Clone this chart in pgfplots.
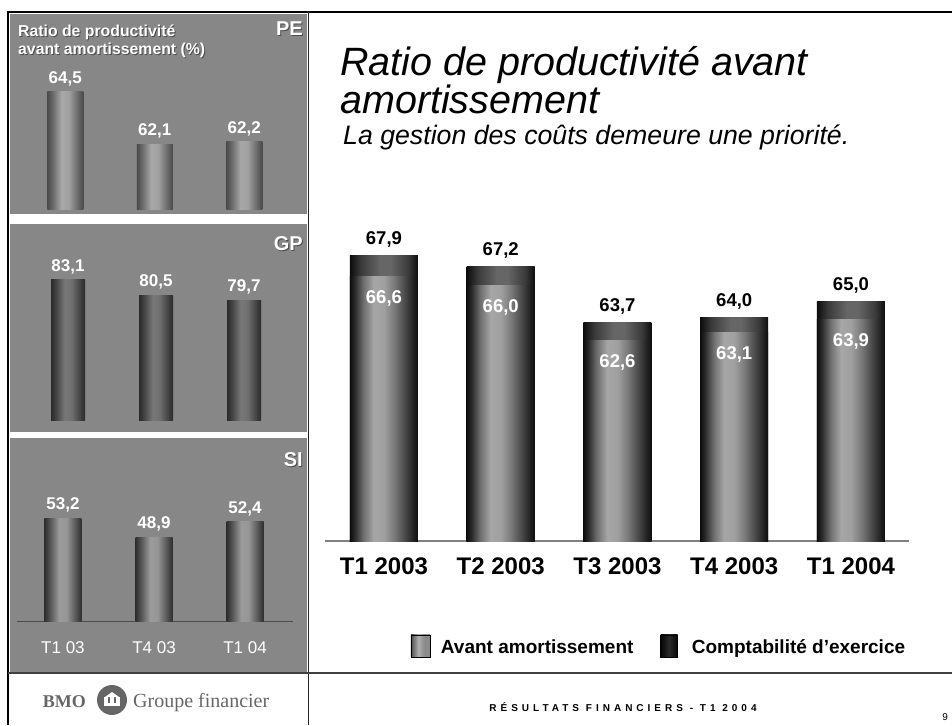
\documentclass[border=0pt]{standalone}
\usepackage{pgfplots}
\pgfplotsset{compat=1.18}
\usepackage{pgfplotstable}
\usepackage{fontspec}
\setmainfont{Liberation Sans}
\newfontfamily\logofont{Liberation Serif}

\definecolor{panel}{HTML}{878787}
% main lower bar
\definecolor{la}{HTML}{0D0D0D}
\definecolor{lb}{HTML}{2A2A2A}
\definecolor{lc}{HTML}{6F6F6F}
\definecolor{ld}{HTML}{A6A6A6}
\definecolor{le}{HTML}{A0A0A0}
\definecolor{lf}{HTML}{7A7A7A}
\definecolor{lg}{HTML}{454545}
\definecolor{lh}{HTML}{222222}
% main top bar
\definecolor{ta}{HTML}{0D0D0D}
\definecolor{tb}{HTML}{3A3A3A}
\definecolor{tc}{HTML}{666666}
% PE
\definecolor{pa}{HTML}{4A4A4A}
\definecolor{pb}{HTML}{6A6A6A}
\definecolor{pc}{HTML}{A8A8A8}
\definecolor{pd}{HTML}{A0A0A0}
% GP
\definecolor{ga}{HTML}{2A2A2A}
\definecolor{gb}{HTML}{444444}
\definecolor{gc}{HTML}{787878}
\definecolor{gd}{HTML}{707070}
% SI
\definecolor{sa}{HTML}{2E2E2E}
\definecolor{sb}{HTML}{555555}
\definecolor{sc}{HTML}{9C9C9C}
\definecolor{sd}{HTML}{959595}
% legend
\definecolor{ka}{HTML}{4A4A4A}
\definecolor{kb}{HTML}{B0B0B0}
\definecolor{kc}{HTML}{8A8A8A}
\definecolor{kd}{HTML}{050505}
\definecolor{ke}{HTML}{2A2A2A}

\pgfdeclarehorizontalshading{lowbar}{100bp}{color(0bp)=(la); color(25bp)=(la); color(28.5bp)=(lb); color(35bp)=(lc); color(42.5bp)=(ld); color(50bp)=(le); color(57.5bp)=(lf); color(66bp)=(lg); color(71.5bp)=(lh); color(75bp)=(la); color(100bp)=(la)}
\pgfdeclarehorizontalshading{topbar}{100bp}{color(0bp)=(ta); color(25bp)=(ta); color(33bp)=(tb); color(47bp)=(tc); color(55bp)=(tc); color(68bp)=(tb); color(75bp)=(ta); color(100bp)=(ta)}
\pgfdeclarehorizontalshading{pebar}{100bp}{color(0bp)=(pa); color(25bp)=(pa); color(32.5bp)=(pb); color(45bp)=(pc); color(55bp)=(pd); color(67.5bp)=(pb); color(75bp)=(pa); color(100bp)=(pa)}
\pgfdeclarehorizontalshading{gpbar}{100bp}{color(0bp)=(ga); color(25bp)=(ga); color(32.5bp)=(gb); color(45bp)=(gc); color(55bp)=(gd); color(67.5bp)=(gb); color(75bp)=(ga); color(100bp)=(ga)}
\pgfdeclarehorizontalshading{sibar}{100bp}{color(0bp)=(sa); color(25bp)=(sa); color(32.5bp)=(sb); color(45bp)=(sc); color(55bp)=(sd); color(67.5bp)=(sb); color(75bp)=(sa); color(100bp)=(sa)}
\pgfdeclarehorizontalshading{leglow}{100bp}{color(0bp)=(ka); color(25bp)=(ka); color(45bp)=(kb); color(60bp)=(kc); color(75bp)=(kc); color(100bp)=(kc)}
\pgfdeclarehorizontalshading{legtop}{100bp}{color(0bp)=(kd); color(25bp)=(kd); color(50bp)=(ke); color(75bp)=(kd); color(100bp)=(kd)}

% Avant amortissement (low), Comptabilite d'exercice (tot)
\pgfplotstableread{
x low tot lowlab totlab
0 66.6 67.9 66,6 67,9
1 66.0 67.2 66,0 67,2
2 62.6 63.7 62,6 63,7
3 63.1 64.0 63,1 64,0
4 63.9 65.0 63,9 65,0
}\maintable

\pgfplotstableread{
x y lab
0 64.5 64,5
1 62.1 62,1
2 62.2 62,2
}\petable

\pgfplotstableread{
x y lab
0 83.1 83,1
1 80.5 80,5
2 79.7 79,7
}\gptable

\pgfplotstableread{
x y lab
0 53.2 53,2
1 48.9 48,9
2 52.4 52,4
}\sitable

\pgfplotsset{
  panelax/.style={
    scale only axis, enlargelimits=false,
    xmin=-0.5, xmax=2.5, ytick=\empty,
    point meta=explicit symbolic,
  },
  panelbar/.style={ybar, bar shift=0pt, draw=none, forget plot,
    nodes near coords,
    nodes near coords style={anchor=base, yshift=8.5pt, inner sep=0pt,
      font=\fontsize{17}{19}\selectfont\bfseries, text=white}},
}

\newcommand{\shadowtext}[4]{% x, y, anchor, text
  \node[anchor=#3, inner sep=0pt, text=black!70] at (#1pt+1pt,#2pt-1pt) {#4};
  \node[anchor=#3, inner sep=0pt, text=white] at (#1pt,#2pt) {#4};
}

\begin{document}
\begin{tikzpicture}
\fill[white] (0pt,0pt) rectangle (952pt,725pt);
\useasboundingbox (0pt,0pt) rectangle (952pt,725pt);

\begin{scope}[x=1pt,y=1pt]
% panels
\fill[panel] (10,511) rectangle (307,711);
\fill[panel] (10,293) rectangle (307,501);
\fill[panel] (10,52) rectangle (307,287);

% frame lines
\draw[line width=2.5pt] (6.5,713) -- (952,713);
\draw[line width=2.5pt] (8,0) -- (8,713);
\draw[line width=1.5pt, black!85] (308.5,0) -- (308.5,713);
\draw[line width=1.2pt, black!75] (8,52) -- (952,52);
\end{scope}

% panel texts
\shadowtext{18}{688}{base west}{\fontsize{15.8}{18}\selectfont\bfseries Ratio de productivité}
\shadowtext{18}{670}{base west}{\fontsize{15.8}{18}\selectfont\bfseries avant amortissement (\%)}
\shadowtext{303}{689}{base east}{\fontsize{20}{24}\selectfont\bfseries PE}
\shadowtext{303}{474}{base east}{\fontsize{20}{24}\selectfont\bfseries GP}
\shadowtext{303}{258}{base east}{\fontsize{20}{24}\selectfont\bfseries SI}

% PE panel
\begin{axis}[panelax, at={(20.5pt,515pt)}, anchor=south west,
  width=268.5pt, height=150pt, ymin=59.06, ymax=65.97,
  axis lines=none, xtick=\empty]
\pgfplotsinvokeforeach{0,1,2}{
\addplot[panelbar, bar width=36pt, shading=pebar, restrict x to domain=#1:#1]
  table[x=x, y=y, meta=lab] {\petable};
}
\end{axis}

% GP panel
\begin{axis}[panelax, at={(24pt,304pt)}, anchor=south west,
  width=264pt, height=175pt, ymin=59.2, ymax=88.86,
  axis lines=none, xtick=\empty]
\pgfplotsinvokeforeach{0,1,2}{
\addplot[panelbar, bar width=34pt, shading=gpbar, restrict x to domain=#1:#1]
  table[x=x, y=y, meta=lab] {\gptable};
}
\end{axis}

% SI panel
\begin{axis}[panelax, at={(17pt,103pt)}, anchor=south west,
  width=276pt, height=140pt, ymin=29.7, ymax=61.37,
  xmin=-0.505, xmax=2.527,
  axis x line*=bottom, axis y line=none,
  x axis line style={draw=black!70, line width=1pt},
  xtick={0,1,2}, xticklabels={T1 03,T4 03,T1 04},
  xtick style={draw=none},
  xticklabel style={anchor=base, yshift=-31pt, text=white, font=\fontsize{17}{20}\selectfont}]
\pgfplotsinvokeforeach{0,1,2}{
\addplot[panelbar, bar width=37pt, shading=sibar, restrict x to domain=#1:#1]
  table[x=x, y=y, meta=lab] {\sitable};
}
\end{axis}

% title
\node[anchor=base west, inner sep=0pt] at (340pt,649pt) {\fontsize{39.5}{44}\selectfont\itshape Ratio de productivité avant};
\node[anchor=base west, inner sep=0pt] at (340pt,611pt) {\fontsize{39.5}{44}\selectfont\itshape amortissement};
\node[anchor=base west, inner sep=0pt] at (343pt,580pt) {\fontsize{26.7}{32}\selectfont\itshape La gestion des coûts demeure une priorité.};

% main chart
\begin{axis}[at={(325pt,184pt)}, anchor=south west, scale only axis,
  width=584pt, height=311pt,
  xmin=-0.505, xmax=4.497, ymin=50, ymax=69.5,
  enlargelimits=false,
  axis x line*=bottom, axis y line=none,
  x axis line style={draw=black!50, line width=1.2pt},
  xtick={0,1,2,3,4},
  xticklabels={T1 2003,T2 2003,T3 2003,T4 2003,T1 2004},
  xtick style={draw=none}, ytick=\empty,
  xticklabel style={anchor=base, yshift=-33pt, font=\fontsize{24}{28}\selectfont\bfseries},
  point meta=explicit symbolic,
  legend columns=2,
  legend style={at={(rel axis cs:0.141,-0.3376)}, anchor=west, draw=none, fill=none,
    font=\fontsize{19}{22}\selectfont\bfseries,
    /tikz/column 1/.style={column sep=9pt},
    /tikz/column 2/.style={column sep=25pt},
    /tikz/column 3/.style={column sep=12pt}},
]
% Comptabilite d'exercice (totals)
\pgfplotsinvokeforeach{0,...,4}{
\addplot[ybar, bar width=68pt, bar shift=0pt, draw=none, shading=topbar, forget plot,
  restrict x to domain=#1:#1,
  nodes near coords,
  nodes near coords style={anchor=base, yshift=11pt, inner sep=0pt,
    font=\fontsize{18.5}{22}\selectfont\bfseries, text=black}]
  table[x=x, y=tot, meta=totlab] {\maintable};
}
% Avant amortissement
\pgfplotsinvokeforeach{0,...,4}{
\addplot[ybar, bar width=68pt, bar shift=0pt, draw=none, shading=lowbar, forget plot,
  restrict x to domain=#1:#1,
  nodes near coords,
  nodes near coords style={anchor=base, yshift=-27pt, inner sep=0pt,
    font=\fontsize{18.5}{22}\selectfont\bfseries, text=white}]
  table[x=x, y=low, meta=lowlab] {\maintable};
}
\addlegendimage{legend image code/.code={\fill[shading=leglow] (0pt,-9pt) rectangle (19pt,13pt);}}
\addlegendentry{Avant amortissement}
\addlegendimage{legend image code/.code={\fill[shading=legtop] (0pt,-9pt) rectangle (17pt,13pt);}}
\addlegendentry{Comptabilité d’exercice}
\end{axis}

% footer
\node[anchor=base, inner sep=0pt] at (623pt,14pt) {\fontsize{10}{12}\selectfont\bfseries\addfontfeature{LetterSpace=40}RÉSULTATS FINANCIERS - T1 2004};
\node[anchor=base east, inner sep=0pt] at (948pt,5pt) {\fontsize{10}{12}\selectfont 9};

% logo
\begin{scope}[x=1pt,y=1pt,black!60]
\node[anchor=base east, inner sep=0pt] at (86,18) {\logofont\fontsize{18}{20}\selectfont\bfseries BMO};
\fill (112,25) circle (15);
\fill[white] (104,19) rectangle (120,28);
\fill[black!60] (108,22) rectangle (110,28);
\fill[black!60] (114,22) rectangle (116,28);
\fill[white] (105,28) -- (112,33) -- (119,28) -- cycle;
\node[anchor=base west, inner sep=0pt] at (133,18) {\logofont\fontsize{20}{22}\selectfont Groupe financier};
\end{scope}
\end{tikzpicture}
\end{document}
